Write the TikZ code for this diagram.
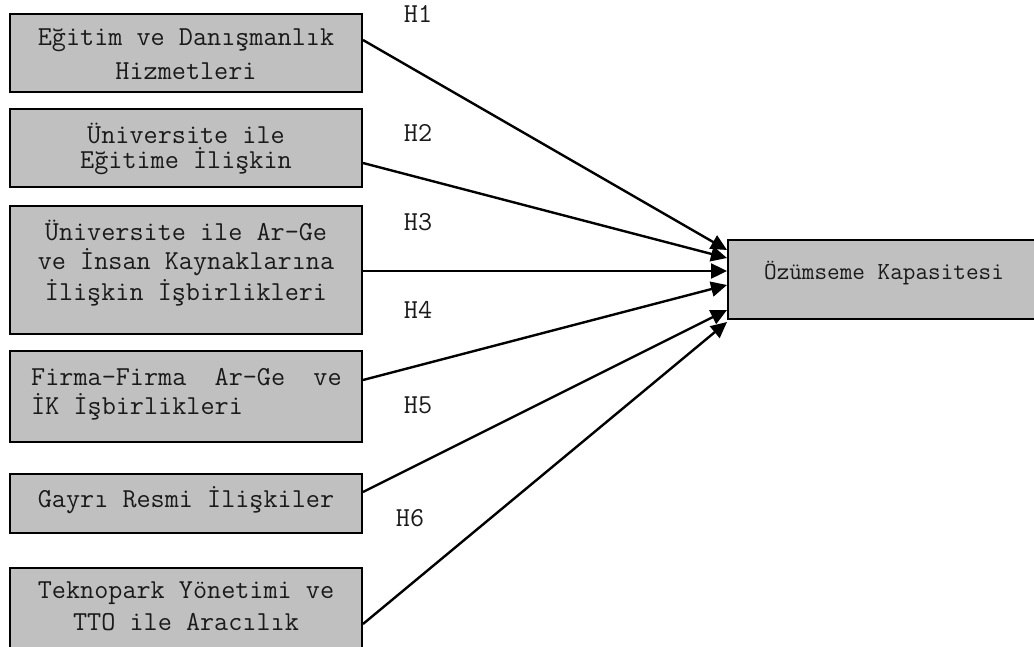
\documentclass[tikz,border=0pt]{standalone}
\usepackage{fontspec}
\usetikzlibrary{arrows.meta}
\definecolor{boxgray}{HTML}{C0C0C0}
\definecolor{txtcol}{HTML}{1A1A1A}
\tikzset{
  box/.style={draw=black, fill=boxgray, line width=2pt, rectangle, inner sep=0pt},
  txt/.style={font=\ttfamily\fontsize{27.4}{30}\selectfont, align=center, inner sep=0pt, text=txtcol},
  rtxt/.style={font=\ttfamily\fontsize{24.5}{27}\selectfont, inner sep=0pt, text=txtcol},
  hlab/.style={font=\ttfamily\fontsize{27.4}{30}\selectfont, inner sep=0pt, text=txtcol},
  conn/.style={line width=2.4pt, -{Triangle[length=16pt,width=15pt]}}
}
\begin{document}
\begin{tikzpicture}[x=1pt,y=-1pt]
\useasboundingbox (0,0) rectangle (1034,646);
% left boxes
\node[box, minimum width=352pt, minimum height=78pt] (b1) at (186,53) {};
\node[box, minimum width=352pt, minimum height=78pt] (b2) at (186,148) {};
\node[box, minimum width=352pt, minimum height=128pt] (b3) at (186,270) {};
\node[box, minimum width=352pt, minimum height=91pt] (b4) at (186,396.5) {};
\node[box, minimum width=352pt, minimum height=59pt] (b5) at (186,503.5) {};
\node[box, minimum width=352pt, minimum height=100pt] (b6) at (186,618) {};
% right box
\node[box, minimum width=312pt, minimum height=79pt] (kap) at (884,279.5) {};
% texts
\node[txt] (t1a) at (186,40) {Eğitim ve Danışmanlık};
\node[txt] (t1b) at (186,71) {Hizmetleri};
\node[txt] (t2a) at (186,133) {Üniversite ile};
\node[txt] (t2b) at (186,161) {Eğitime İlişkin};
\node[txt] (t3a) at (186,230) {Üniversite ile Ar-Ge};
\node[txt] (t3b) at (186,262) {ve İnsan Kaynaklarına};
\node[txt] (t3c) at (186,293) {İlişkin İşbirlikleri};
\node[txt, anchor=west] (t4a) at (31,377) {Firma-Firma\ \ Ar-Ge\ \ ve};
\node[txt, anchor=west] (t4b) at (31,407) {İK İşbirlikleri};
\node[txt] (t5) at (186,500) {Gayrı Resmi İlişkiler};
\node[txt] (t6a) at (186,593) {Teknopark Yönetimi ve};
\node[txt] (t6b) at (186,622) {TTO ile Aracılık};
\node[rtxt] (tk) at (884,273) {Özümseme Kapasitesi};
% hypothesis labels
\node[hlab] (h1) at (418,14) {H1};
\node[hlab] (h2) at (418,133) {H2};
\node[hlab] (h3) at (418,222) {H3};
\node[hlab] (h4) at (418,310) {H4};
\node[hlab] (h5) at (418,405) {H5};
\node[hlab] (h6) at (410,518) {H6};
% connectors
\draw[conn] ([yshift=13pt]b1.east) -- ([yshift=29.5pt]kap.west);
\draw[conn] ([yshift=-15pt]b2.east) -- ([yshift=21.5pt]kap.west);
\draw[conn] ([yshift=-1pt]b3.east) -- ([yshift=8.5pt]kap.west);
\draw[conn] ([yshift=16.5pt]b4.east) -- ([yshift=-5.5pt]kap.west);
\draw[conn] ([yshift=11.5pt]b5.east) -- ([yshift=-30.5pt]kap.west);
\draw[conn] ([yshift=-57pt]b6.north east) -- ([yshift=-42.5pt]kap.west);
\end{tikzpicture}
\end{document}
